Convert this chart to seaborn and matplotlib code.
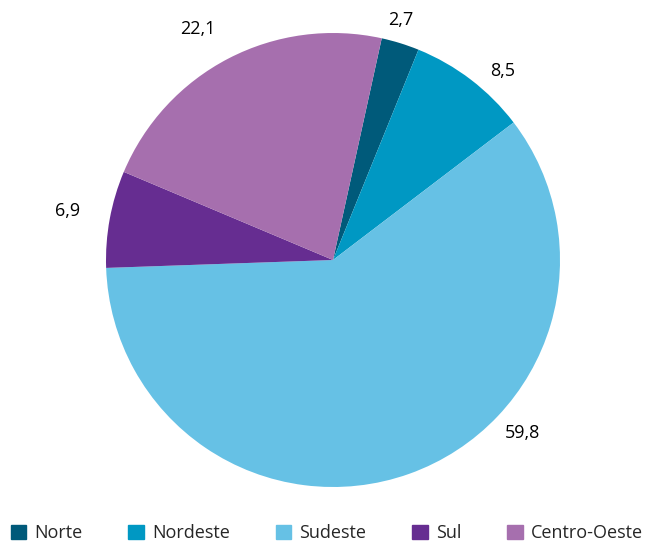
import numpy as np
import matplotlib
matplotlib.use("Agg")
import matplotlib.pyplot as plt
import matplotlib.patches as mpatches
import seaborn as sns

regions = ['Norte', 'Nordeste', 'Sudeste', 'Sul', 'Centro-Oeste']
shares = [2.7, 8.5, 59.8, 6.9, 22.1]
labels = ['2,7', '8,5', '59,8', '6,9', '22,1']
colors = ['#005a7a', '#0098c3', '#66c1e5', '#662d91', '#a66fae']

sns.set_theme(style="white")
plt.rcParams['font.family'] = ['Open Sans', 'DejaVu Sans']

fig = plt.figure(figsize=(6.47, 5.42), dpi=100)
# pie area: centre ~ (333, 260) px, radius ~ 227 px
ax = fig.add_axes([106 / 647, 55 / 542, 454 / 647, 454 / 542])

wedges, _ = ax.pie(shares, colors=colors, startangle=77.6, counterclock=False,
                   radius=1, wedgeprops=dict(linewidth=0))

# value labels outside the slices
label_dist = [1.10, 1.12, 1.13, 1.19, 1.18]
angle_shift = [1.5, -4.5, 28, 0, 3]
for w, txt, d, sh in zip(wedges, labels, label_dist, angle_shift):
    ang = np.deg2rad((w.theta1 + w.theta2) / 2 + sh)
    ax.text(d * np.cos(ang), d * np.sin(ang), txt, ha='center', va='center',
            fontsize=13, color='black')

ax.set_xlim(-1, 1)
ax.set_ylim(-1, 1)
ax.set_aspect('equal')
ax.axis('off')

handles = [mpatches.Patch(color=c, label=r) for c, r in zip(colors, regions)]
fig.legend(handles=handles, loc='lower center', ncol=5, frameon=False,
           fontsize=13, handlelength=0.85, handleheight=0.85, handletextpad=0.45,
           columnspacing=2.55, bbox_to_anchor=(0.505, -0.02), borderaxespad=0.2)

fig.savefig('out.png', dpi=100)
